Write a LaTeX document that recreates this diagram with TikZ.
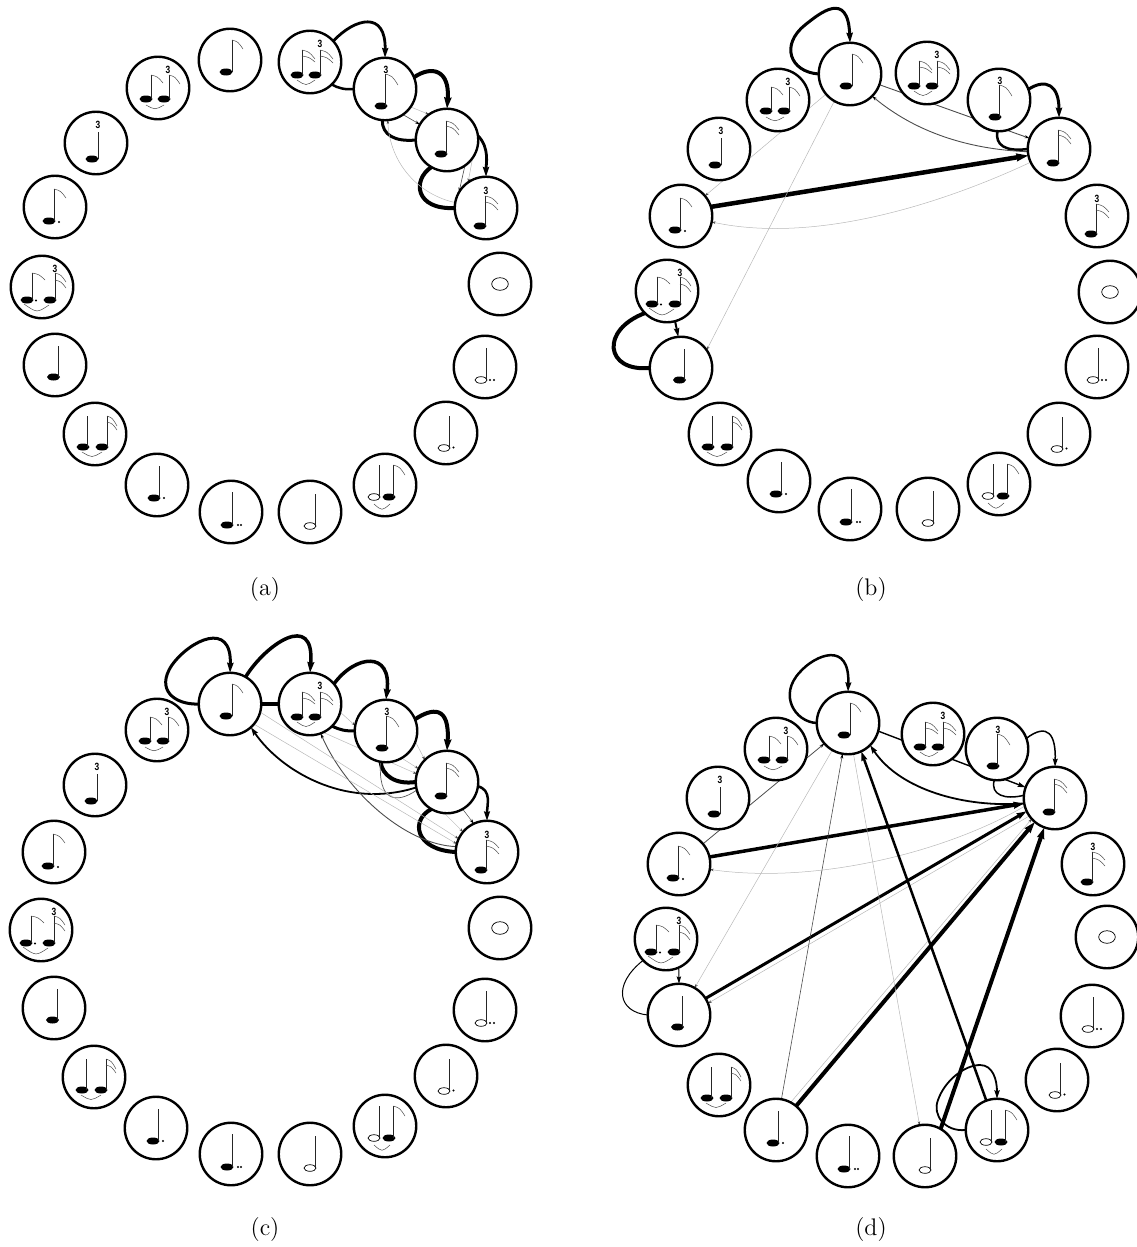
\documentclass[tikz,border=0pt]{standalone}
\usepackage{fontspec}
\usepackage{graphicx}
\usetikzlibrary{arrows.meta,backgrounds}
\newfontfamily\trifont[FakeStretch=0.8]{Liberation Sans}
\newcommand\nflag[4]{\pgfmathsetmacro\fmx{#1+0.55*(#3-#1)}\pgfmathsetmacro\fmy{#2+0.2*(#4-#2)}\draw[nfl] (#1,#2) .. controls (\fmx,\fmy) .. (#3,#4);}
\newcommand\nhead[2]{\fill (#1,#2) ellipse [x radius=6.5,y radius=3.5];}
\newcommand\nhollow[2]{\draw[line width=.7pt,fill=white] (#1,#2) ellipse [x radius=6,y radius=3.3];}
\newcommand\nstem[3]{\draw[nst] (#1,#2) -- (#1,#3);}
\newcommand\ntie[6]{\draw[nfl] (#1,#2) .. controls (#3,#4) .. (#5,#6);}
\newcommand\ndot[2]{\fill (#1,#2) circle [radius=1.1];}
\newcommand\nthree[2]{\node[trinode] (-t) at (#1,#2) {3};}
\tikzset{
  notec/.style={circle,draw=black,line width=2.4pt,fill=white,minimum size=62.5pt,inner sep=0pt,outer sep=0pt},
  nst/.style={line width=.8pt,black!85},
  nfl/.style={line width=.5pt,black!70},
  trinode/.style={inner sep=0pt,font=\trifont\bfseries\fontsize{10.5}{10.5}\selectfont},
  capnode/.style={inner sep=0pt,font=\fontsize{12}{12}\selectfont},
  ew/.style={line width=#1,draw=black,-{Stealth[length=6pt 1.3,width=3.5pt 0.9,inset=1pt]}},
  np/.style={line width=#1,draw=black},
  ef/.style={line width=.5pt,draw=black!28,-{Stealth[length=4pt,width=2.5pt,black!70]}},
  et/.style={line width=#1,draw=black!70,-{Stealth[length=5pt,width=3pt,black]}},
  gE/.pic={\nhead{-4}{12}\nstem{2}{12}{-20}\nflag{2}{-20}{13}{-11}},
  gTT/.pic={\nhead{-13}{13}\nhead{5}{13}\nstem{-8}{13}{-12}\nstem{10}{13}{-12}
    \nflag{-8}{-12}{5}{-3}\nflag{-8}{-6}{5}{0}\nflag{10}{-12}{23}{-3}\nflag{10}{-6}{23}{1}
    \ntie{-13}{18}{-4}{24}{5}{18}\nthree{10}{-18}},
  gEt/.pic={\nhead{-4}{17}\nstem{0.5}{17}{-15}\nflag{0.5}{-15}{13}{-4}\nthree{1}{-19}},
  gS/.pic={\nhead{-6}{14}\nstem{-1}{14}{-19}\nflag{-1}{-19}{12}{-10}\nflag{-1}{-14}{12}{-5}},
  gSt/.pic={\nhead{-6}{18}\nstem{-1}{18}{-12}\nflag{-1}{-12}{12}{-4}\nflag{-1}{-6}{12}{2}\nthree{0}{-17}},
  gW/.pic={\draw[line width=.7pt] (0,0) ellipse [x radius=8.3,y radius=6.3];},
  gDDH/.pic={\nhollow{-4}{13}\nstem{1.3}{12}{-19}\ndot{5}{13}\ndot{9}{13}},
  gDH/.pic={\nhollow{-2}{15}\nstem{3.5}{14}{-17}\ndot{7.5}{14.5}},
  gHE/.pic={\nhollow{-11}{12}\nhead{4}{12}\nstem{-6}{11}{-20}\nstem{8.3}{12}{-20}\nflag{8.3}{-20}{20}{-10}\ntie{-11}{19}{-3}{26}{5}{19}},
  gH/.pic={\nhollow{0}{14}\nstem{5}{13}{-18}},
  gDDQ/.pic={\nhead{-4}{13}\nstem{1}{13}{-20}\ndot{7}{13}\ndot{10}{13}},
  gDQ/.pic={\nhead{-3}{13}\nstem{2}{13}{-19}\ndot{7}{13}},
  gQS/.pic={\nhead{-12}{13}\nhead{7}{13}\nstem{-7.5}{13}{-18}\nstem{12}{13}{-18}\nflag{12}{-18}{22}{-8}\nflag{12}{-12}{22}{-4}\ntie{-13}{18}{-3}{24}{7}{18}},
  gQ/.pic={\nhead{-1.5}{12}\nstem{3.5}{12}{-19}},
  gDT/.pic={\nhead{-15}{13}\nhead{8}{13}\nstem{-10}{13}{-14}\nstem{13}{13}{-14}\nflag{-10}{-14}{3}{-7}\nflag{13}{-14}{24}{-5}\nflag{13}{-7}{24}{1}\ndot{-6}{13.5}\ntie{-18}{17}{-5}{26}{7}{18}\nthree{13}{-18}},
  gD/.pic={\nhead{-6}{14}\nstem{-1}{14}{-18}\nflag{-1}{-18}{11}{-9}\ndot{4}{15}},
  gQt/.pic={\nhead{-4}{16}\nstem{2}{16}{-11}\nthree{2}{-18}},
  gEE/.pic={\nhead{-12}{11}\nhead{6}{11}\nstem{-7}{11}{-13}\nstem{11}{11}{-13}\nflag{-7}{-13}{5}{-5}\nflag{11}{-13}{22}{-4}\ntie{-12}{17}{-3}{22}{6}{17}\nthree{10}{-18}},
}
\newcommand\putnote[4]{\node[notec] (#1) at (#2,#3) {}; \pic at (#1) {#4};}
\begin{document}
\begin{tikzpicture}[x=1pt,y=-1pt]
\useasboundingbox (0,0) rectangle (1136,1247);
% panel a
\putnote{a1}{230}{60}{gE}\putnote{a2}{310}{62}{gTT}\putnote{a3}{385}{89}{gEt}\putnote{a4}{447}{140}{gS}\putnote{a5}{486}{208}{gSt}
\putnote{a6}{500}{284}{gW}\putnote{a7}{485}{367}{gDDH}\putnote{a8}{446}{433}{gDH}\putnote{a9}{385}{485}{gHE}\putnote{a10}{310}{512}{gH}
\putnote{a11}{231}{512}{gDDQ}\putnote{a12}{157}{485}{gDQ}\putnote{a13}{95}{434}{gQS}\putnote{a14}{55}{365}{gQ}\putnote{a15}{42}{287}{gDT}
\putnote{a16}{55}{207}{gD}\putnote{a17}{96}{143}{gQt}\putnote{a18}{158}{88}{gEE}
% panel b
\putnote{b1}{850}{74}{gE}\putnote{b2}{927}{73}{gTT}\putnote{b3}{999}{100}{gEt}\putnote{b4}{1059}{149}{gS}\putnote{b5}{1097}{216}{gSt}
\putnote{b6}{1110}{292}{gW}\putnote{b7}{1097}{367}{gDDH}\putnote{b8}{1059}{434}{gDH}\putnote{b9}{999}{484}{gHE}\putnote{b10}{928}{509}{gH}
\putnote{b11}{850}{509}{gDDQ}\putnote{b12}{779}{481}{gDQ}\putnote{b13}{720}{434}{gQS}\putnote{b14}{681}{368}{gQ}\putnote{b15}{667}{291}{gDT}
\putnote{b16}{681}{216}{gD}\putnote{b17}{719}{149}{gQt}\putnote{b18}{778}{100}{gEE}
% panel c
\putnote{c1}{230}{704}{gE}\putnote{c2}{310}{704}{gTT}\putnote{c3}{386}{731}{gEt}\putnote{c4}{447}{782}{gS}\putnote{c5}{487}{852}{gSt}
\putnote{c6}{500}{928}{gW}\putnote{c7}{485}{1010}{gDDH}\putnote{c8}{446}{1076}{gDH}\putnote{c9}{385}{1126}{gHE}\putnote{c10}{310}{1154}{gH}
\putnote{c11}{231}{1154}{gDDQ}\putnote{c12}{156}{1128}{gDQ}\putnote{c13}{94}{1077}{gQS}\putnote{c14}{54}{1008}{gQ}\putnote{c15}{41}{930}{gDT}
\putnote{c16}{54}{852}{gD}\putnote{c17}{95}{785}{gQt}\putnote{c18}{157}{730}{gEE}
% panel d
\putnote{d1}{848}{723}{gE}\putnote{d2}{933}{734}{gTT}\putnote{d3}{997}{749}{gEt}\putnote{d4}{1055}{798}{gS}\putnote{d5}{1093}{864}{gSt}
\putnote{d6}{1107}{937}{gW}\putnote{d7}{1092}{1016}{gDDH}\putnote{d8}{1057}{1080}{gDH}\putnote{d9}{997}{1130}{gHE}\putnote{d10}{925}{1156}{gH}
\putnote{d11}{848}{1156}{gDDQ}\putnote{d12}{776}{1130}{gDQ}\putnote{d13}{719}{1085}{gQS}\putnote{d14}{679}{1015}{gQ}\putnote{d15}{666}{939}{gDT}
\putnote{d16}{679}{864}{gD}\putnote{d17}{718}{798}{gQt}\putnote{d18}{776}{749}{gEE}
% captions
\node[capnode] (capa) at (265,590) {\scalebox{2}{(a)}};
\node[capnode] (capb) at (871,590) {\scalebox{2}{(b)}};
\node[capnode] (capc) at (265,1229) {\scalebox{2}{(c)}};
\node[capnode] (capd) at (871,1229) {\scalebox{2}{(d)}};
\begin{scope}[on background layer]
% --- a
\draw[ew=2.8pt] (a2.42) .. controls (355,18) and (386,10) .. (a3.90);
\draw[np=2.5pt] (a3.180) .. controls (345,90) and (338,88) .. (a2.-46);
\draw[ew=4pt] (a3.22) .. controls (432,65) and (450,70) .. (a4.90);
\draw[np=3pt] (a4.180) .. controls (395,142) and (382,135) .. (a3.-95);
\draw[ew=2.8pt] (a4.8) .. controls (490,148) and (486,165) .. (a5.90);
\draw[np=4pt] (a5.180) .. controls (415,210) and (412,180) .. (a4.-120);
\draw[ef] (a5.170) .. controls (420,195) and (390,165) .. (a3.-85);
\draw[ef] (a3.-35) -- (a4.125);
\draw[et=.6pt] (a3.-55) -- (a4.150);
\draw[ef] (a4.-35) -- (a5.125);
\draw[et=.6pt] (a4.-55) -- (a5.150);
% --- b
\draw[ew=3pt] (b1.180) .. controls (790,72) and (780,45) .. (805,25) .. controls (820,13) and (848,-10) .. (b1.90);
\draw[ew=3pt] (b3.20) .. controls (1046,78) and (1059,85) .. (b4.90);
\draw[np=2.5pt] (b4.180) .. controls (1005,152) and (995,145) .. (b3.-93);
\draw[et=.9pt] (b1.-20) -- (b4.160);
\draw[et=.9pt] (b4.-175) .. controls (985,150) and (925,140) .. (b1.-45);
\draw[ew=4.5pt] (b16.17) -- (b4.-168);
\draw[ef] (b4.-155) .. controls (950,200) and (820,245) .. (b16.-11);
\draw[ef] (b1.-120) -- (b14.35);
\draw[ef] (b1.-140) -- (b16.40);
\draw[ew=2pt] (b15.-75) -- (b14.95);
\draw[np=4pt] (b14.180) .. controls (605,372) and (600,330) .. (b15.-135);
% --- c
\draw[ew=3pt] (c1.180) .. controls (175,705) and (155,690) .. (172,665) .. controls (190,640) and (232,620) .. (c1.90);
\draw[ew=3.5pt] (c1.60) .. controls (265,645) and (315,610) .. (c2.90);
\draw[np=3.5pt] (c2.180) -- (c1.0);
\draw[ew=3.5pt] (c2.40) .. controls (355,655) and (392,650) .. (c3.90);
\draw[np=3pt] (c3.180) .. controls (345,731) and (340,730) .. (c2.-45);
\draw[ew=4pt] (c3.22) .. controls (432,708) and (450,705) .. (c4.90);
\draw[np=4pt] (c4.180) .. controls (395,785) and (382,775) .. (c3.-100);
\draw[ew=2.5pt] (c4.-8) .. controls (492,790) and (487,805) .. (c5.90);
\draw[np=4pt] (c5.180) .. controls (415,850) and (410,820) .. (c4.-120);
\draw[ew=1.8pt] (c4.-170) .. controls (345,810) and (280,770) .. (c1.-48);
\draw[et=.9pt] (c5.170) .. controls (405,845) and (345,790) .. (c2.-70);
\draw[line width=.7pt,draw=black!65] (c4.-165) .. controls (395,805) and (378,800) .. (c3.-100);
\draw[ef] (c1.-15) -- (c5.155);
\draw[ef] (c1.-40) -- (c5.165);
\draw[ef] (c2.-15) -- (c3.170);
\draw[ef] (c2.-65) -- (c4.165);
\draw[ef] (c3.-20) -- (c4.135);
\draw[ef] (c3.-60) -- (c4.155);
\draw[et=.5pt] (c4.-60) -- (c5.115);
\draw[ef] (c4.-95) -- (c5.140);
% --- d
\draw[ew=2.5pt] (d1.180) .. controls (795,722) and (778,695) .. (800,672) .. controls (815,655) and (850,640) .. (d1.90);
\draw[ew=1.4pt] (d1.-15) -- (d4.160);
\draw[ew=1.8pt] (d4.190) .. controls (965,808) and (900,790) .. (d1.-45);
\draw[ew=1.5pt] (d3.20) .. controls (1048,722) and (1056,735) .. (d4.90);
\draw[np=1.5pt] (d4.175) .. controls (1005,800) and (990,795) .. (d3.-95);
\draw[ew=3.5pt] (d16.13) -- (d4.190);
\draw[ef] (d4.-165) .. controls (950,850) and (820,885) .. (d16.-10);
\draw[ew=3pt] (d14.32) -- (d4.-155);
\draw[ef] (d4.-145) -- (d14.22);
\draw[ef] (d1.-120) -- (d14.60);
\draw[ef] (d12.62) -- (d4.-138);
\draw[ew=4pt] (d12.50) -- (d4.-130);
\draw[et=.6pt] (d12.80) -- (d1.-100);
\draw[ew=4pt] (d10.60) -- (d4.-110);
\draw[ew=2.5pt] (d9.110) -- (d1.-65);
\draw[ef] (d1.-80) -- (d10.100);
\draw[ew=1.8pt] (d9.180) .. controls (945,1132) and (932,1115) .. (938,1100) .. controls (945,1080) and (965,1065) .. (980,1065) .. controls (993,1065) and (997,1080) .. (d9.90);
\draw[et=.8pt] (d16.40) -- (d1.-139);
\draw[np=1pt] (d14.180) .. controls (618,1012) and (612,985) .. (d15.-137);
\draw[ew=1pt] (d15.-66) -- (d14.90);
\end{scope}
\end{tikzpicture}
\end{document}
